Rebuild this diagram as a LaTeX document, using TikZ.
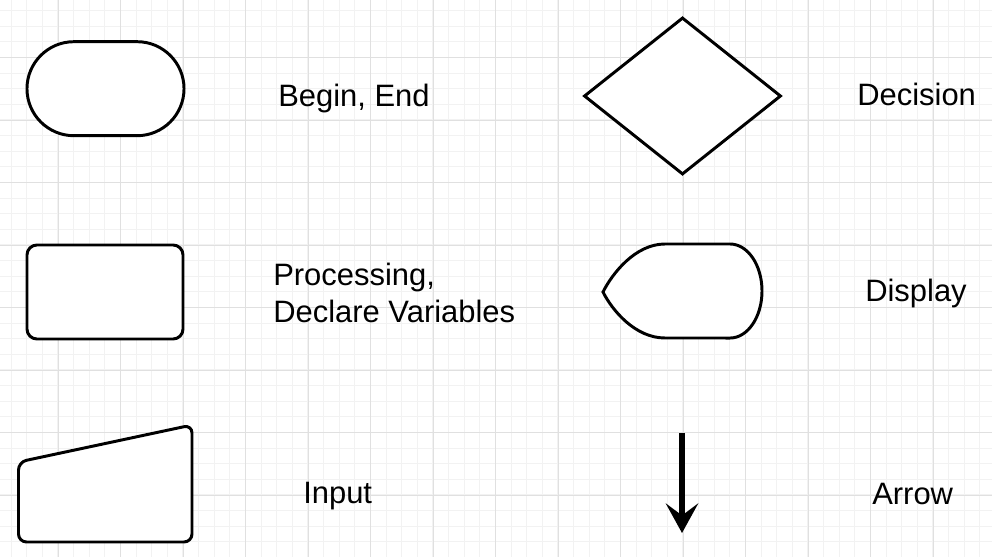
\documentclass[tikz,border=0pt]{standalone}
\usepackage{fontspec}
\setmainfont{Liberation Sans}
\usepackage{tikz}
\usetikzlibrary{positioning}
\usetikzlibrary{shapes.misc,shapes.geometric,arrows.meta}

\begin{document}
\begin{tikzpicture}[x=0.025cm, y=-0.025cm,
    gridminor/.style = {draw=black!5, line width=0.7pt},
    gridmajor/.style = {draw=black!12, line width=0.7pt},
    outline/.style = {draw, fill=white, line width=2.1pt},
    terminal/.style = {outline, rounded rectangle, minimum width=3.925cm, minimum height=2.35cm, inner sep=0pt},
    process/.style = {outline, rectangle, rounded corners=0.25cm, minimum width=3.9cm, minimum height=2.35cm, inner sep=0pt},
    decision/.style = {outline, diamond, aspect=1.255, minimum width=4.925cm, minimum height=3.925cm, inner sep=0pt},
    desc/.style = {font=\fontsize{22}{26}\selectfont, inner sep=0pt, align=left},
    flow/.style = {line width=4pt, -{Stealth[length=21pt, width=23pt, inset=8.5pt]}}]
            % Background grid
            \fill[white] (0,0) rectangle (992,557);
            \useasboundingbox (0,0) rectangle (992,557);
            \foreach \i in {0,...,62} \draw[gridminor] ({11.1+15.625*\i},0) -- ({11.1+15.625*\i},557);
            \foreach \j in {0,...,35} \draw[gridminor] (0,{10.6+15.625*\j}) -- (992,{10.6+15.625*\j});
            \foreach \i in {0,...,14} \draw[gridmajor] ({58+62.5*\i},0) -- ({58+62.5*\i},557);
            \foreach \j in {0,...,7} \draw[gridmajor] (0,{57.5+62.5*\j}) -- (992,{57.5+62.5*\j});
            % Symbols
            \node[terminal] (beginend) at (105.5,88.7) {};
            \node[process] (processing) at (105,292) {};
            \node[decision] (decision) at (682.5,96) {};
            \draw[outline, rounded corners=0.2cm] (105,542) -- (18.5,542) -- (18.5,462) -- (192,425) -- (192,542) -- cycle;
            \draw[outline] (665,244) -- (730,244)
                arc[start angle=90, end angle=-90, x radius=0.8cm, y radius=1.175cm]
                -- (665,338) .. controls (635,338) and (612,310) .. (603,292)
                .. controls (612,274) and (635,244) .. (665,244) -- cycle;
            \coordinate (arrowtop) at (682,433);
            \coordinate (arrowtip) at (682,533);
            \draw[flow] (arrowtop) -- (arrowtip);
            % Labels
            \node[desc, anchor=base west] (beginendtext) at (278,106.7) {Begin, End};
            \node[desc, anchor=west] (processingtext) at (273,292.7) {Processing,\\Declare Variables};
            \node[desc, anchor=base west] (inputtext) at (303,503.3) {Input};
            \node[desc, anchor=base west] (decisiontext) at (857,105.7) {Decision};
            \node[desc, anchor=base west] (displaytext) at (865,301.7) {Display};
            \node[desc, anchor=base west] (arrowtext) at (872,504) {Arrow};
\end{tikzpicture}
\end{document}
